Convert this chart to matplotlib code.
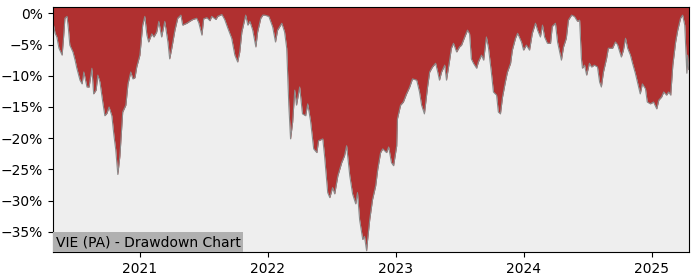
import numpy as np
import pandas as pd
import matplotlib
matplotlib.use("Agg")
import matplotlib.pyplot as plt
import matplotlib.ticker as mticker
import matplotlib.dates as mdates

title = "VIE (PA) - Drawdown Chart"

# drawdown in percent
dates = [
    "2020-04-28", "2020-05-04", "2020-05-09", "2020-05-15", "2020-05-24", "2020-05-28",
    "2020-06-01", "2020-06-07", "2020-06-11", "2020-06-15", "2020-06-24", "2020-06-30",
    "2020-07-05", "2020-07-14", "2020-07-20", "2020-07-25", "2020-08-03", "2020-08-09",
    "2020-08-17", "2020-08-22", "2020-08-29", "2020-09-03", "2020-09-09", "2020-09-17",
    "2020-09-23", "2020-09-29", "2020-10-05", "2020-10-13", "2020-10-19", "2020-10-24",
    "2020-10-30", "2020-11-05", "2020-11-08", "2020-11-13", "2020-11-22", "2020-11-28",
    "2020-12-06", "2020-12-12", "2020-12-18", "2020-12-23", "2021-01-01", "2021-01-09",
    "2021-01-15", "2021-01-21", "2021-01-26", "2021-02-04", "2021-02-10", "2021-02-18",
    "2021-02-24", "2021-03-04", "2021-03-13", "2021-03-22", "2021-03-27", "2021-04-02",
    "2021-04-11", "2021-04-19", "2021-04-28", "2021-05-03", "2021-05-15", "2021-05-23",
    "2021-06-01", "2021-06-12", "2021-06-18", "2021-06-27", "2021-07-02", "2021-07-11",
    "2021-07-20", "2021-07-25", "2021-08-06", "2021-08-11", "2021-08-23", "2021-08-31",
    "2021-09-09", "2021-09-20", "2021-09-29", "2021-10-07", "2021-10-13", "2021-10-19",
    "2021-10-30", "2021-11-05", "2021-11-11", "2021-11-19", "2021-11-28", "2021-12-03",
    "2021-12-12", "2021-12-18", "2021-12-23", "2022-01-04", "2022-01-15", "2022-01-23",
    "2022-01-29", "2022-02-10", "2022-02-18", "2022-02-24", "2022-03-02", "2022-03-07",
    "2022-03-13", "2022-03-19", "2022-03-24", "2022-04-02", "2022-04-10", "2022-04-19",
    "2022-04-25", "2022-05-03", "2022-05-12", "2022-05-21", "2022-05-26", "2022-06-07",
    "2022-06-12", "2022-06-21", "2022-06-27", "2022-07-05", "2022-07-11", "2022-07-20",
    "2022-07-31", "2022-08-08", "2022-08-14", "2022-08-23", "2022-08-31", "2022-09-09",
    "2022-09-14", "2022-09-20", "2022-09-29", "2022-10-04", "2022-10-10", "2022-10-13",
    "2022-10-19", "2022-10-27", "2022-11-05", "2022-11-11", "2022-11-19", "2022-11-25",
    "2022-12-06", "2022-12-12", "2022-12-20", "2022-12-26", "2023-01-04", "2023-01-06",
    "2023-01-15", "2023-01-23", "2023-02-01", "2023-02-10", "2023-02-18", "2023-03-02",
    "2023-03-10", "2023-03-16", "2023-03-24", "2023-04-02", "2023-04-08", "2023-04-16",
    "2023-04-25", "2023-05-01", "2023-05-06", "2023-05-12", "2023-05-21", "2023-05-26",
    "2023-06-04", "2023-06-09", "2023-06-15", "2023-06-24", "2023-07-02", "2023-07-08",
    "2023-07-17", "2023-07-25", "2023-07-31", "2023-08-05", "2023-08-11", "2023-08-20",
    "2023-08-25", "2023-09-03", "2023-09-09", "2023-09-17", "2023-09-23", "2023-10-01",
    "2023-10-07", "2023-10-16", "2023-10-21", "2023-10-27", "2023-11-02", "2023-11-10",
    "2023-11-16", "2023-11-25", "2023-11-30", "2023-12-09", "2023-12-15", "2023-12-26",
    "2024-01-01", "2024-01-09", "2024-01-18", "2024-01-26", "2024-02-04", "2024-02-10",
    "2024-02-18", "2024-02-24", "2024-03-01", "2024-03-09", "2024-03-18", "2024-03-23",
    "2024-04-01", "2024-04-07", "2024-04-18", "2024-04-24", "2024-05-02", "2024-05-08",
    "2024-05-17", "2024-05-25", "2024-06-03", "2024-06-09", "2024-06-14", "2024-06-17",
    "2024-06-23", "2024-06-29", "2024-07-07", "2024-07-13", "2024-07-21", "2024-07-30",
    "2024-08-05", "2024-08-10", "2024-08-16", "2024-08-25", "2024-08-30", "2024-09-11",
    "2024-09-19", "2024-09-25", "2024-10-06", "2024-10-12", "2024-10-18", "2024-10-24",
    "2024-11-01", "2024-11-07", "2024-11-15", "2024-11-21", "2024-11-29", "2024-12-05",
    "2024-12-14", "2024-12-19", "2024-12-28", "2025-01-06", "2025-01-15", "2025-01-21",
    "2025-01-29", "2025-02-04", "2025-02-12", "2025-02-18", "2025-02-24", "2025-03-02",
    "2025-03-10", "2025-03-16", "2025-03-24", "2025-03-30", "2025-04-05", "2025-04-11",
    "2025-04-13", "2025-04-16",
]
drawdown = [
    -1.5, -3.2, -3.8, -5.6, -6.7, -4.0,
    -0.8, -0.5, -2.5, -5.1, -6.2, -7.5,
    -8.8, -10.7, -11.3, -9.4, -11.8, -11.8,
    -8.8, -12.9, -12.3, -9.9, -11.0, -14.2,
    -16.4, -16.0, -15.0, -16.4, -19.6, -21.8,
    -25.8, -22.8, -20.1, -15.8, -14.7, -11.3,
    -9.4, -10.5, -10.3, -8.6, -6.7, -1.9,
    -0.5, -3.5, -4.6, -3.3, -3.8, -3.0,
    -1.3, -3.8, -1.3, -4.6, -7.3, -5.6,
    -2.7, -0.8, -0.3, -1.9, -1.6, -1.3,
    -1.0, -0.8, -1.5, -3.5, -0.9, -0.7,
    -1.2, -0.5, -1.0, -0.5, -0.2, -1.0,
    -2.4, -4.0, -6.7, -7.8, -6.2, -3.0,
    -0.3, -1.9, -1.3, -2.7, -5.4, -3.0,
    -0.8, -0.3, -0.3, -0.5, -2.2, -4.6,
    -2.7, -1.6, -3.0, -5.6, -14.7, -20.1,
    -17.4, -12.3, -14.7, -11.8, -16.1, -16.4,
    -14.5, -17.2, -21.7, -22.3, -20.4, -20.1,
    -22.8, -28.7, -29.5, -27.9, -28.9, -26.0,
    -23.9, -22.8, -21.2, -26.0, -28.9, -30.5,
    -28.7, -33.0, -36.2, -35.7, -38.0, -36.2,
    -33.0, -29.8, -27.6, -24.9, -22.3, -21.7,
    -22.3, -21.4, -23.9, -24.4, -21.2, -16.9,
    -14.7, -14.2, -12.9, -11.8, -10.5, -10.7,
    -12.6, -14.7, -16.1, -11.8, -9.4, -8.6,
    -8.0, -9.4, -10.7, -9.4, -8.3, -10.7,
    -7.5, -5.6, -4.8, -6.2, -5.4, -5.1,
    -3.8, -2.7, -3.3, -7.3, -8.0, -8.8,
    -7.8, -6.7, -7.5, -3.8, -5.6, -9.4,
    -12.6, -13.1, -15.8, -16.1, -13.4, -11.0,
    -9.4, -8.0, -5.9, -4.0, -3.2, -4.6,
    -5.9, -5.1, -5.9, -3.2, -1.6, -2.7,
    -3.8, -1.9, -3.8, -4.8, -4.8, -2.1,
    -1.6, -4.6, -7.5, -5.4, -4.0, -1.1,
    -0.3, -0.5, -1.3, -1.1, -7.2, -8.8,
    -8.3, -9.9, -8.0, -8.6, -8.3, -8.6,
    -11.0, -11.8, -9.4, -7.2, -5.6, -5.6,
    -4.6, -5.0, -7.0, -5.9, -4.0, -5.6,
    -6.7, -8.0, -9.6, -11.0, -12.9, -11.3,
    -12.1, -14.2, -14.5, -14.2, -15.3, -13.9,
    -13.4, -12.6, -13.1, -12.6, -13.1, -8.3,
    -4.6, -2.7, -0.8, -0.3, -1.9, -9.6,
    -6.7, -9.0,
]

x = pd.to_datetime(dates)
y = np.array(drawdown)
ytop = 1.0

fig = plt.figure(figsize=(7, 2.8), dpi=100)
ax = fig.add_axes([0.0757, 0.1, 0.908, 0.875])
ax.set_facecolor("#eeeeee")

ax.fill_between(x, y, ytop, color="#b03030", linewidth=0)
ax.plot(x, y, color="#8a8a8a", linewidth=0.8)

ax.set_xlim(x[0], x[-1])
ax.set_ylim(-38.2, ytop)
ax.xaxis.set_major_locator(mdates.YearLocator())
ax.xaxis.set_major_formatter(mdates.DateFormatter("%Y"))
ax.yaxis.set_major_locator(mticker.MultipleLocator(5))
ax.yaxis.set_major_formatter(mticker.FuncFormatter(lambda v, p: f"{v:.0f}%".replace("-", "\u2212")))
ax.tick_params(labelsize=10)

ax.annotate(title, xy=(0, 0), xycoords="axes fraction", xytext=(2, 2),
            textcoords="offset points", fontsize=10, ha="left", va="bottom",
            bbox=dict(facecolor="#b0b0b0", edgecolor="none", pad=2))

fig.savefig("out.png", dpi=100)
